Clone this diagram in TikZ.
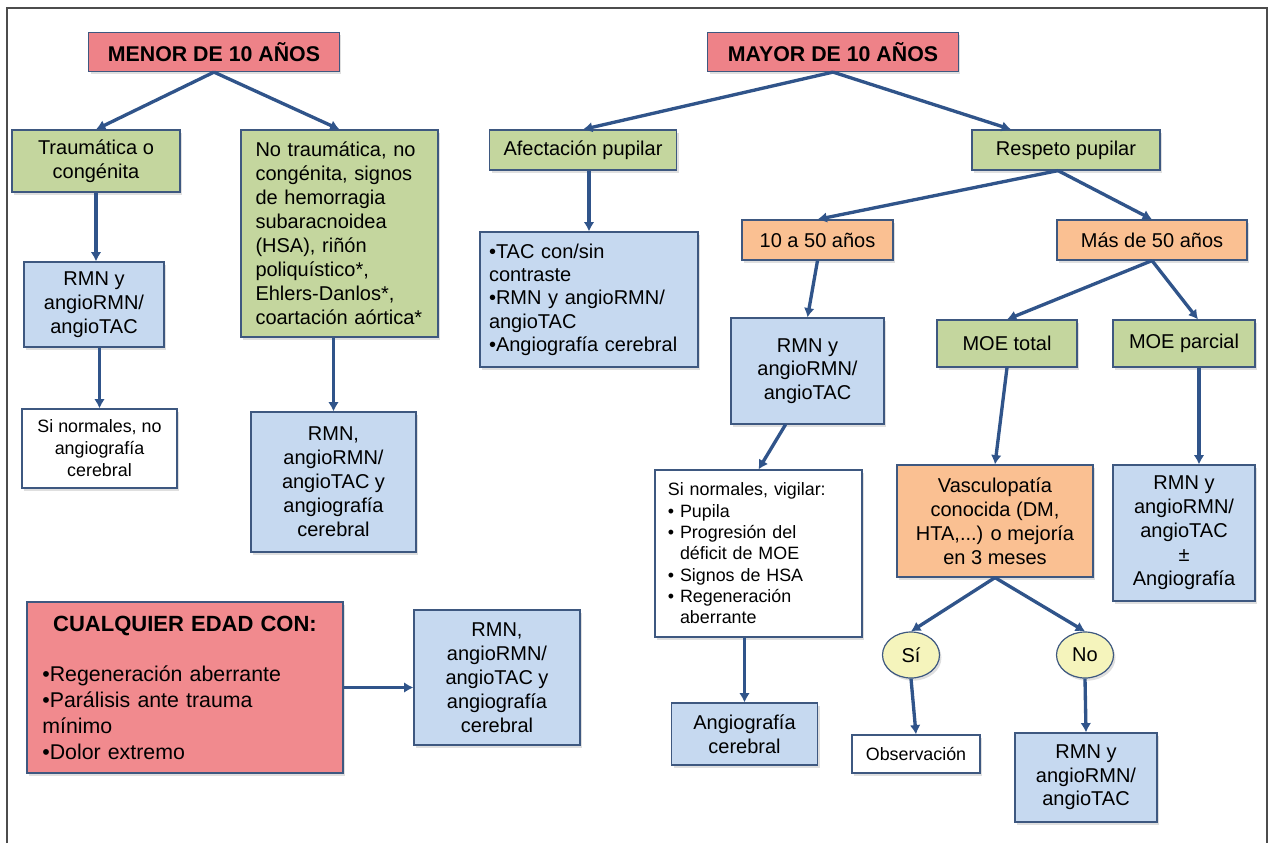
\documentclass[tikz,border=0pt]{standalone}
\usepackage{fontspec}
\setmainfont{Liberation Sans}
\usetikzlibrary{arrows.meta,calc,positioning,shapes.geometric,shadows}

\definecolor{hdrred}{RGB}{238,130,136}
\definecolor{anyred}{RGB}{241,138,142}
\definecolor{boxgreen}{RGB}{196,214,158}
\definecolor{boxblue}{RGB}{198,217,240}
\definecolor{boxorange}{RGB}{250,192,146}
\definecolor{boxyellow}{RGB}{245,244,188}
\definecolor{boxline}{RGB}{62,88,128}
\definecolor{arrowblue}{RGB}{48,84,138}

\begin{document}
\begin{tikzpicture}[>={Latex[length=7pt,width=8pt]}, x=0.75pt, y=-0.75pt,
  box/.style={draw=boxline, line width=0.9pt, align=center, inner sep=2pt,
    drop shadow={opacity=0.25, shadow xshift=1.5pt, shadow yshift=-2pt},
    font=\fontsize{15}{18}\selectfont},
  hdr/.style={box, fill=hdrred, minimum width=188pt, minimum height=29.25pt,
    font=\fontsize{16}{18}\selectfont\bfseries},
  green/.style={box, fill=boxgreen},
  blue/.style={box, fill=boxblue},
  orange/.style={box, fill=boxorange},
  white/.style={box, fill=white},
  small/.style={font=\fontsize{13.4}{16.5}\selectfont},
  answer/.style={box, ellipse, fill=boxyellow, inner sep=0pt,
    minimum width=42.75pt, minimum height=34.5pt},
  conn/.style={->, draw=arrowblue, line width=2.5pt}]

  \useasboundingbox (0,0) rectangle (1269,843);
  \draw[gray!60!black, line width=1.5pt] (7,843) -- (7,8) -- (1267,8) -- (1267,843);

  % menor de 10 anos
  \node[hdr] (menor) at (214,52) {MENOR DE 10 AÑOS};
  \node[green, minimum width=126pt, minimum height=46.5pt] (trauma) at (96,161)
    {Traumática o\\congénita};
  \node[green, align=left, text width=126pt, minimum width=147.75pt,
    minimum height=155.25pt] (notrauma) at (339.5,233.5)
    {No traumática, no\\congénita, signos\\de hemorragia\\subaracnoidea\\(HSA), riñón\\
     poliquístico*,\\Ehlers-Danlos*,\\coartación aórtica*};
  \node[blue, minimum width=105pt, minimum height=63.75pt] (rmnA) at (94,304.5)
    {RMN y\\angioRMN/\\angioTAC};
  \node[white, small, minimum width=116.25pt, minimum height=59.25pt] (normA) at (99.5,448.5)
    {Si normales, no\\angiografía\\cerebral};
  \node[blue, minimum width=123.75pt, minimum height=105pt] (rmnB) at (333.5,482)
    {RMN,\\angioRMN/\\angioTAC y\\angiografía\\cerebral};

  % cualquier edad
  \node[box, fill=anyred, align=left, text width=214pt, minimum width=237pt,
    minimum height=128.25pt, font=\fontsize{16}{19.5}\selectfont] (cual) at (185,687.5)
    {\makebox[214pt][c]{\fontsize{16.5}{19.5}\selectfont\bfseries CUALQUIER EDAD CON:}\\[18pt]
     •Regeneración aberrante\\•Parálisis ante trauma\\mínimo\\•Dolor extremo};
  \node[blue, minimum width=124.5pt, minimum height=101.25pt] (rmnF) at (497,677.5)
    {RMN,\\angioRMN/\\angioTAC y\\angiografía\\cerebral};

  % mayor de 10 anos
  \node[hdr] (mayor) at (833,52) {MAYOR DE 10 AÑOS};
  \node[green, minimum width=140.25pt, minimum height=30pt] (afect) at (583,150)
    {Afectación pupilar};
  \node[green, minimum width=141pt, minimum height=30pt] (respeto) at (1066,150)
    {Respeto pupilar};
  \node[blue, align=left, text width=150pt, minimum width=163.5pt, minimum height=101.25pt,
    font=\fontsize{15}{17.5}\selectfont] (afectR) at (589,299.5)
    {•TAC con/sin\\contraste\\•RMN y angioRMN/\\angioTAC\\\mbox{•Angiografía cerebral}};
  \node[orange, minimum width=113.25pt, minimum height=30pt] (diez) at (817.5,240)
    {10 a 50 años};
  \node[orange, minimum width=142.5pt, minimum height=30pt] (mas) at (1152,240)
    {Más de 50 años};
  \node[blue, minimum width=114.75pt, minimum height=79.5pt,
    font=\fontsize{15}{17.5}\selectfont] (rmnC) at (807.5,371)
    {RMN y\\angioRMN/\\angioTAC};
  \node[green, minimum width=105pt, minimum height=35.25pt] (moeT) at (1007,343.5)
    {MOE total};
  \node[green, minimum width=106.5pt, minimum height=35.25pt] (moeP) at (1184,343.5)
    {MOE parcial};
  \node[white, align=left, text width=136pt, minimum width=155.25pt, minimum height=125.25pt,
    font=\fontsize{13.4}{16}\selectfont] (vigilar) at (758.5,553.5)
    {Si normales, vigilar:\\\textbullet\ Pupila\\\textbullet\ Progresión del\\
     \hphantom{\textbullet\ }déficit de MOE\\\textbullet\ Signos de HSA\\
     \textbullet\ Regeneración\\\hphantom{\textbullet\ }aberrante};
  \node[orange, minimum width=147pt, minimum height=84pt] (vasc) at (995,521)
    {Vasculopatía\\conocida (DM,\\HTA,...) o mejoría\\en 3 meses};
  \node[blue, minimum width=106.5pt, minimum height=102pt] (rmnD) at (1184,533)
    {RMN y\\angioRMN/\\angioTAC\\±\\Angiografía};
  \node[answer] (si) at (911,655) {Sí};
  \node[answer] (no) at (1085,655) {No};
  \node[blue, minimum width=109.5pt, minimum height=46.5pt] (angio) at (744.5,734)
    {Angiografía\\cerebral};
  \node[white, small, minimum width=96pt, minimum height=28.5pt] (obs) at (916,754)
    {Observación};
  \node[blue, minimum width=106.5pt, minimum height=66.75pt,
    font=\fontsize{15}{17.5}\selectfont] (rmnE) at (1086,777.5)
    {RMN y\\angioRMN/\\angioTAC};

  % connectors
  \draw[conn] (menor.south) -- (trauma.north);
  \draw[conn] (menor.south) -- (notrauma.north);
  \draw[conn] (trauma.south) -- (trauma.south |- rmnA.north);
  \draw[conn] (normA.north |- rmnA.south) -- (normA.north);
  \draw[conn] (rmnB.north |- notrauma.south) -- (rmnB.north);
  \draw[conn] (cual.east) -- (cual.east -| rmnF.west);

  \draw[conn] (mayor.south) -- (afect.north);
  \draw[conn] (mayor.south) -- ($(respeto.north)+(-55,0)$);
  \draw[conn] (afectR.north |- afect.south) -- (afectR.north);
  \draw[conn] ($(respeto.south)+(-8,0)$) -- (diez.north);
  \draw[conn] ($(respeto.south)+(-8,0)$) -- (mas.north);
  \draw[conn] (diez.south) -- (rmnC.north);
  \draw[conn] (mas.south) -- (moeT.north);
  \draw[conn] (mas.south) -- ($(moeP.north)+(14,0)$);
  \draw[conn] ($(rmnC.south)+(-22,0)$) -- (vigilar.north);
  \draw[conn] (moeT.south) -- (vasc.north);
  \draw[conn] ($(moeP.south)+(15,0)$) -- ($(rmnD.north)+(15,0)$);
  \draw[conn] (vigilar.south -| angio.north) -- (angio.north);
  \draw[conn] (vasc.south) -- (si.north);
  \draw[conn] (vasc.south) -- (no.north);
  \draw[conn] (si.south) -- (obs.north);
  \draw[conn] (no.south) -- (rmnE.north);
\end{tikzpicture}
\end{document}
